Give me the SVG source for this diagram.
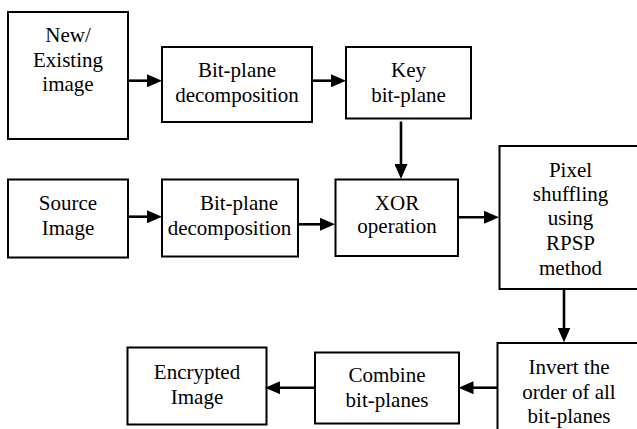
<svg xmlns="http://www.w3.org/2000/svg" width="637" height="429" viewBox="0 0 637 429">
  <style>
    .box { fill: #ffffff; stroke: #000000; stroke-width: 2; }
    text { font-size: 21px; fill: #000000; text-anchor: middle; }
    .wire { stroke: #000000; stroke-width: 2.6; fill: none; marker-end: url(#head); }
  </style>
  <defs>
    <!-- solid triangular arrowhead; tip lands 8px past the end of the line -->
    <marker id="head" markerUnits="userSpaceOnUse" markerWidth="15" markerHeight="13" refX="7" refY="6.5" orient="auto">
      <path d="M0,0 L15,6.5 L0,13 Z" fill="#000000"/>
    </marker>
  </defs>
  <rect width="637" height="429" fill="#ffffff"/>

  <g id="new-existing-image" font-family="Liberation Serif">
    <rect class="box" x="8" y="12" width="120" height="127"/>
    <text x="68" y="42">New/</text>
    <text x="68" y="67">Existing</text>
    <text x="68" y="91">image</text>
  </g>

  <g id="decompose-key" font-family="serif">
    <rect class="box" x="162" y="47" width="150" height="75"/>
    <text x="237" y="77">Bit-plane</text>
    <text x="237" y="101.5">decomposition</text>
  </g>

  <g id="key-bit-plane" font-family="Liberation Serif, serif">
    <rect class="box" x="346" y="47" width="125" height="71.5"/>
    <text x="408.5" y="77">Key</text>
    <text x="408.5" y="101.5">bit-plane</text>
  </g>

  <g id="source-image" font-family="serif">
    <rect class="box" x="8" y="179.5" width="120" height="78"/>
    <text x="68" y="210">Source</text>
    <text x="68" y="235">Image</text>
  </g>

  <g id="decompose-source" font-family="Liberation Serif">
    <rect class="box" x="162" y="179.5" width="136" height="77"/>
    <text x="239" y="210">Bit-plane</text>
    <text x="229.5" y="235">decomposition</text>
  </g>

  <g id="xor-operation" font-family="serif">
    <rect class="box" x="335.5" y="179.5" width="122.5" height="76.5"/>
    <text x="397" y="210">XOR</text>
    <text x="397" y="233">operation</text>
  </g>

  <g id="pixel-shuffling" font-family="Liberation Serif, serif">
    <rect class="box" x="499.5" y="146" width="142" height="143"/>
    <text x="570.5" y="176.5">Pixel</text>
    <text x="570.5" y="201">shuffling</text>
    <text x="570.5" y="225">using</text>
    <text x="570.5" y="249.5">RPSP</text>
    <text x="570.5" y="274.5">method</text>
  </g>

  <g id="invert-order" font-family="serif">
    <rect class="box" x="497.5" y="343" width="144" height="100"/>
    <text x="569" y="374">Invert the</text>
    <text x="569" y="398.5">order of all</text>
    <text x="569" y="423">bit-planes</text>
  </g>

  <g id="combine-bit-planes" font-family="Liberation Serif">
    <rect class="box" x="315" y="352.5" width="144" height="71"/>
    <text x="387" y="382">Combine</text>
    <text x="387" y="407">bit-planes</text>
  </g>

  <g id="encrypted-image" font-family="Liberation Serif">
    <rect class="box" x="127.5" y="347.5" width="139" height="77"/>
    <text x="197" y="378.5">Encrypted</text>
    <text x="197" y="403.5">Image</text>
  </g>

  <g id="connectors">
    <line class="wire" x1="128" y1="80.7" x2="154" y2="80.7"/>
    <line class="wire" x1="312" y1="80.7" x2="338" y2="80.7"/>
    <line class="wire" x1="401" y1="121.5" x2="401" y2="171"/>
    <line class="wire" x1="128" y1="216.7" x2="154" y2="216.7"/>
    <line class="wire" x1="298" y1="224.3" x2="327" y2="224.3"/>
    <line class="wire" x1="458" y1="217.3" x2="491" y2="217.3"/>
    <line class="wire" x1="564" y1="289" x2="564" y2="334.5"/>
    <line class="wire" x1="497.5" y1="387.7" x2="466.5" y2="387.7"/>
    <line class="wire" x1="315" y1="387.7" x2="273" y2="387.7"/>
  </g>
</svg>
